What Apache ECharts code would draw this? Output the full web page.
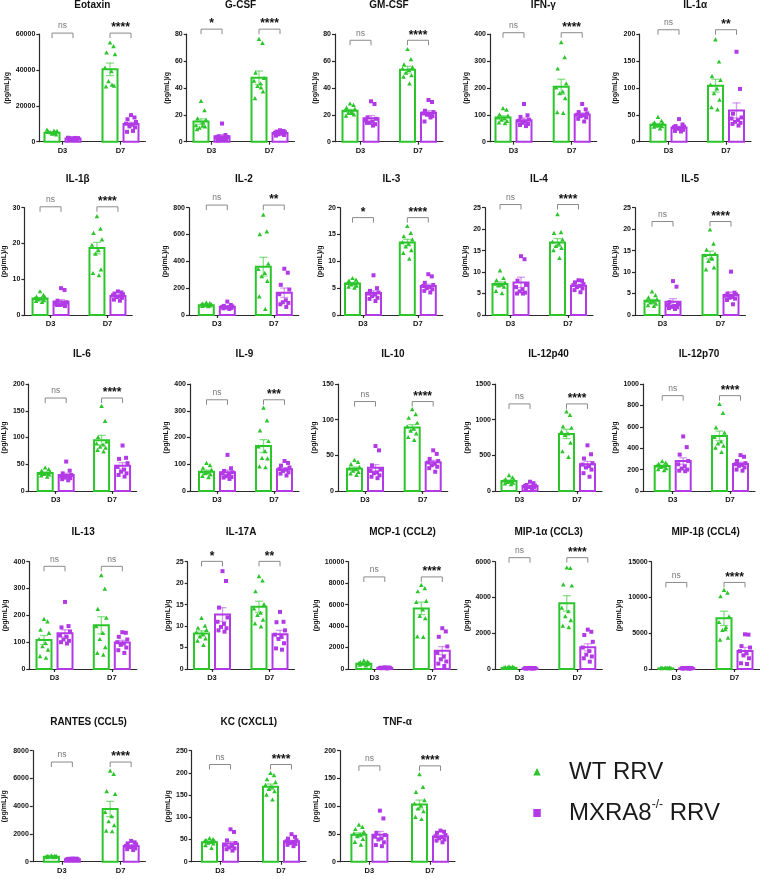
<!DOCTYPE html>
<html><head><meta charset="utf-8">
<script src="https://cdn.jsdelivr.net/npm/echarts@6/dist/echarts.min.js"></script>
<style>html,body{margin:0;padding:0;background:#fff}#c{width:760px;height:879px}</style>
</head><body><div id="c"></div>
<script>
// ---------------- DATA ----------------
const titles = ['Eotaxin','G-CSF','GM-CSF','IFN-γ','IL-1α','IL-1β','IL-2','IL-3','IL-4','IL-5','IL-6','IL-9','IL-10','IL-12p40','IL-12p70','IL-13','IL-17A','MCP-1 (CCL2)','MIP-1α (CCL3)','MIP-1β (CCL4)','RANTES (CCL5)','KC (CXCL1)','TNF-α'];
const categories = ['D3','D7'];
const yMax  = [60000,80,80,400,200,30,800,20,25,25,200,400,150,1500,1000,400,25,10000,6000,15000,8000,250,200];
const yStep = [20000,20,20,100,50,10,200,5,5,5,50,100,50,500,200,100,5,2000,2000,5000,2000,50,50];
const sigD3 = ['ns','*','ns','ns','ns','ns','ns','*','ns','ns','ns','ns','ns','ns','ns','ns','*','ns','ns','ns','ns','ns','ns'];
const sigD7 = ['****','****','****','****','**','****','**','****','****','****','****','***','****','****','****','ns','**','****','****','****','****','****','****'];

// bar means [D3, D7] and SEM
const wtMean = [[5000,40300],[15,47.5],[23,53.5],[90,204],[31.5,104],[4.6,18.7],[73,360],[5.85,13.5],[7.2,16.9],[3.3,14],[33.5,95],[72,168],[31.3,89],[140,800],[233,515],[108,163],[8.3,14.5],[480,5650],[60,3670],[80,7080],[350,3800],[44,169],[48.5,103]];
const wtSem  = [[400,3500],[2,5],[1,2.5],[6,28],[2,12],[0.3,1.6],[3.5,70],[0.2,0.6],[0.5,0.9],[0.35,0.9],[2,9],[6,24],[2.2,4],[13,65],[9,45],[17,32],[0.6,1.3],[50,580],[9,430],[8,1000],[20,550],[2.5,6],[3.5,8]];
const mxMean = [[1800,9800],[4,6.5],[17.5,21.5],[80,101],[26.5,58],[3.8,5.3],[62,166],[4.1,5.4],[7.6,6.8],[3.1,4.65],[30,47],[70,81],[32.5,40.2],[70,375],[280,252],[133,99],[12.7,8.1],[100,1710],[40,1210],[100,2520],[185,1130],[41,46],[48.5,45.5]];
const mxSem  = [[150,1000],[1.3,0.5],[1.9,1.5],[8,6],[2.3,14],[0.5,0.3],[5,35],[0.4,0.35],[1.2,0.3],[0.7,0.7],[3.3,6],[8,5.5],[4.5,2.8],[10,40],[30,16],[13,8],[1.6,0.9],[10,380],[4,200],[9,500],[10,70],[4.5,2.5],[6,2.2]];

// individual animals
const wtPtsD3 = [
 [4200,4900,5300,5800,6400,4600,5000,3800,5200,5900],
 [30,23,17,16,12,11.5,10,11,9,14],
 [28,27,25,24,23,22,21,20,19,21],
 [123,117,100,95,88,85,80,75,70,67],
 [45,38,35,33,32,30,29,28,27,24],
 [6.5,5.5,5,4.8,4.6,4.5,4.2,4,3.8,3.5],
 [90,85,82,78,75,72,70,68,65,62],
 [6.8,6.5,6.3,6,5.9,5.8,5.6,5.4,5.2,5],
 [10.3,8.5,8,7.5,7.2,7,6.8,6.5,5.5,5],
 [5.4,4.5,4,3.6,3.3,3,2.8,2.5,2.2,2],
 [43,40,37,35,33,32,31,30,28,26],
 [103,95,85,78,72,68,65,60,55,50],
 [43,40,37,33,31,30,28,26,24,22],
 [215,185,160,150,140,130,120,110,100,90],
 [275,260,250,240,235,228,220,210,200,190],
 [185,176,145,133,110,95,83,70,46,40],
 [11.8,10,9.5,9,8.5,8,7.5,7,6.5,5.5],
 [750,650,600,550,500,480,450,400,350,300],
 [120,100,80,70,60,50,45,40,35,30],
 [120,110,100,90,80,75,70,60,50,45],
 [420,400,380,360,350,340,330,310,300,290],
 [52,50,48,46,45,44,42,40,36,30],
 [66,62,58,53,50,48,45,40,35,30]
];
const mxPtsD3 = [
 [1200,1500,1800,2000,2200,1600,1900,1700,1400,2100],
 [13.5,5,4,3.5,3,2.5,2,1.5,1,2],
 [30,28,18,17,16,15,14,13,14,12],
 [140,98,92,82,78,74,70,66,62,58],
 [42,32,29,28,27,25,24,22,20,19],
 [7.5,7,4,3.5,3.2,3,2.8,2.5,2.8,2.9],
 [100,75,68,64,60,58,55,52,50,45],
 [7.4,5,4.5,4.2,4,3.8,3.5,3.2,3,2.6],
 [13.7,13,8,7,6.5,6,5.5,5.2,5,5],
 [7.9,6.6,3,2.5,2.3,2.1,1.9,1.8,1.6,1.4],
 [55,38,33,30,28,27,25,24,22,20],
 [135,85,75,70,65,60,55,52,50,45],
 [63,57,36,30,28,26,25,22,20,18],
 [130,110,85,75,70,60,55,50,35,30],
 [510,410,340,280,250,230,210,200,190,185],
 [250,160,155,140,125,120,110,105,100,95],
 [22.8,20.5,14.3,12,11,10.5,9.8,9.5,9,8.7],
 [160,140,120,110,100,90,85,80,70,60],
 [60,55,50,45,40,38,35,30,28,25],
 [150,130,120,110,100,95,90,80,70,60],
 [230,220,210,200,190,180,170,160,150,140],
 [73,67,48,42,38,35,32,30,28,25],
 [92,78,52,48,45,42,40,35,30,28]
];
const wtPtsD7 = [
 [55000,53000,49500,48500,41000,39000,33500,31000,30500,31500],
 [76,73,51,47,45,43,41,37,32,40],
 [68.5,61,57,55,54,53,51,49,48,43],
 [368,312,270,215,200,185,178,160,108,105],
 [189,148,121,114,105,98,89,77,63,59],
 [27.5,24,22.8,21,19.5,18,17,12.6,11.6,11],
 [745,620,600,380,340,310,285,250,135,42],
 [16.5,15.2,14.6,14,13.5,13.2,12.7,12,11.5,10.4],
 [23.4,19.2,19,17.5,17,16.5,16,15.5,15,13.2],
 [19.8,16.5,15.1,14.2,13.8,13.2,12.5,11,10.5,13],
 [158,130,100,92,88,86,82,80,76,73],
 [310,262,225,185,165,147,122,120,90,87],
 [114,107,102,95,90,87,84,80,75,71],
 [1110,1060,900,880,830,800,780,670,550,470],
 [810,725,590,540,500,460,440,420,400,360],
 [348,298,222,190,158,133,110,80,58,52],
 [21.5,20.5,18,15,14,13,12.5,11.4,10.5,9.8],
 [7800,7500,7200,6300,6200,5500,4900,4700,3000,2950],
 [5660,5620,4700,4640,3400,3200,2930,2700,2400,2310],
 [11000,10600,10100,7300,6500,5500,5400,4300,4050,5800],
 [6530,6300,5050,4850,3550,3250,2880,2600,2210,2160],
 [199,194,185,178,172,168,163,158,150,139],
 [157,134,125,110,104,100,95,90,80,76]
];
const mxPtsD7 = [
 [14800,13500,12500,11000,10000,9500,8500,8000,5500,6000],
 [8.5,8,7.5,7,6.5,6,5.5,5,4.5,6.5],
 [31,29.5,23,22,21,20,20,19,15,18],
 [140,120,110,105,100,98,95,90,85,75],
 [167,98,52,45,43,40,37,35,33,30],
 [6.6,6.3,6,5.8,5.5,5.2,5,4.8,4.3,4],
 [345,315,225,190,155,110,95,90,80,60],
 [7.6,7.2,6,5.6,5.4,5.2,5,4.8,4.5,4.2],
 [8.1,8,7.6,7.2,7,6.8,6.5,6.2,5.8,5.3],
 [10.1,5.2,5,4.8,4.5,4.2,4,3.8,3.5,2.5],
 [85,62,60,52,45,40,36,33,30,27],
 [112,105,95,88,82,80,75,70,65,58],
 [57,52,45,42,40,38,36,34,32,27],
 [640,515,455,390,370,350,330,300,250,200],
 [335,320,280,260,250,245,235,220,200,190],
 [137,135,120,110,100,95,90,80,70,60],
 [13.3,11,10.9,9,8,7.5,7,6,4.8,4.5],
 [3800,3500,3000,2100,1500,1150,900,700,500,280],
 [2200,2080,1900,1520,1200,1000,800,700,600,410],
 [4850,4800,3200,3000,2500,2200,1900,1500,800,700],
 [1500,1400,1320,1250,1150,1100,1050,960,900,840],
 [62,56,52,48,46,44,42,40,38,35],
 [56,54,52,48,46,44,42,40,38,35]
];
const legendNames = ['WT RRV', 'MXRA8', '-/-', ' RRV'];

// ---------------- LAYOUT / STYLE ----------------
const FONT = '"Liberation Sans", Arial, sans-serif';
const GREEN = '#2cc52c', PURPLE = '#b23ae6';
const GREEN_ERR = 'rgba(44,197,44,0.55)', PURPLE_ERR = 'rgba(178,58,230,0.5)';
const AX = '#2a2a2a';
const rowTop = [34, 207.7, 384, 561.7, 750.7];
const rowBottom = [141.7, 315, 491, 669, 861.7];
const rowTitleY = [5, 179, 354, 532, 722];
const axisLeft = [39.3,186.7,335,490,639.3, 23.3,189,340,485,635, 27,190,338,495,643, 29.3,187.7,348.3,495,651.7, 31.6,191.7,340];
const d3px = [62.5,211.5,360.5,513.5,668.5, 49.7,216.8,363,510.5,662.5, 54.5,217,365,519.5,672.7, 54.5,212,374.3,519.5,676.3, 61,220,369.4];
const d7px = [120.5,269.5,418,571.7,726, 107.2,273.8,417.8,568,720.5, 111.7,274,422.7,577,730, 111.8,269.5,431.8,577.3,734.5, 120.4,281,430];
const BW = 15, OFF = 10.5;
const JIT = [0, 3.5, -3.5, 5, -5, 1.5, -1.5, 4, -4, 2];

const option = { animation:false, grid:[], xAxis:[], yAxis:[], series:[], graphic:[] };

function barRender(params, api){
  const x = api.value(0), m = api.value(1), s = api.value(2), sign = api.value(3);
  const c0 = api.coord([x, 0]), cm = api.coord([x, m]);
  const cx = c0[0] + sign*OFF;
  return { type:'rect', shape:{x:cx-BW/2, y:cm[1], width:BW, height:c0[1]-cm[1]},
    style:{fill:'#fff', stroke: sign<0?GREEN:PURPLE, lineWidth:2} };
}
function errRender(params, api){
  const x = api.value(0), m = api.value(1), s = api.value(2), sign = api.value(3);
  const c0 = api.coord([x, 0]);
  const cx = c0[0] + sign*OFF;
  const hi = api.coord([x, m+s])[1], lo = api.coord([x, m-s])[1];
  const st = {stroke: sign<0?GREEN_ERR:PURPLE_ERR, lineWidth:1.3};
  return { type:'group', children:[
    {type:'line', shape:{x1:cx,y1:hi,x2:cx,y2:lo}, style:st},
    {type:'line', shape:{x1:cx-4,y1:hi,x2:cx+4,y2:hi}, style:st},
    {type:'line', shape:{x1:cx-4,y1:lo,x2:cx+4,y2:lo}, style:st}
  ]};
}
function ptRender(params, api){
  const x = api.value(0), v = api.value(1), sign = api.value(2), k = api.value(3);
  const c = api.coord([x, v]);
  const cx = c[0] + sign*OFF + JIT[k % JIT.length], cy = c[1];
  if (sign < 0) {
    return {type:'polygon', shape:{points:[[cx,cy-2.6],[cx-2.3,cy+1.6],[cx+2.3,cy+1.6]]}, style:{fill:GREEN}};
  }
  return {type:'rect', shape:{x:cx-2, y:cy-2, width:4, height:4}, style:{fill:PURPLE}};
}
function makeBracketRender(i){
  return function(params, api){
    const x = api.value(0), lvl = api.value(1);
    const c = api.coord([x, lvl]);
    const l = c[0]-OFF, r = c[0]+OFF, y = c[1];
    const lab = x < 0.5 ? sigD3[i] : sigD7[i];
    const isNs = lab === 'ns';
    return {type:'group', children:[
      {type:'polyline', shape:{points:[[l,y+5],[l,y],[r,y],[r,y+5]]}, style:{stroke:'#8a8a8a', lineWidth:1, fill:null}},
      {type:'text', x:c[0], y: isNs ? y-7 : y-5, style:{text:lab, align:'center', verticalAlign:'middle',
        fontFamily:FONT, fontSize: isNs?8.5:12, fontWeight: isNs?'normal':'bold', fill: isNs?'#777':'#111'}}
    ]};
  };
}

titles.forEach((t, i) => {
  const r = Math.floor(i/5);
  const left = axisLeft[i], right = d7px[i] + 25;
  const sep = d7px[i] - d3px[i];
  const digits = String(yMax[i]).length;
  option.grid.push({left:left, top:rowTop[r], width:right-left, height:rowBottom[r]-rowTop[r]});
  option.xAxis.push({type:'value', gridIndex:i, min:-(d3px[i]-left)/sep, max:1+(right-d7px[i])/sep,
    splitLine:{show:false},
    axisLine:{show:true, onZero:false, lineStyle:{color:AX, width:1.2}},
    axisTick:{show:true, length:3, customValues:[0,1], lineStyle:{color:AX, width:1.2}},
    axisLabel:{customValues:[0,1], margin:5, fontSize:7.5, fontWeight:'bold', color:'#111', fontFamily:FONT,
      formatter: v => Math.abs(v) < 1e-6 ? categories[0] : (Math.abs(v-1) < 1e-6 ? categories[1] : '')}
  });
  option.yAxis.push({type:'value', gridIndex:i, min:0, max:yMax[i], interval:yStep[i],
    splitLine:{show:false},
    axisLine:{show:true, onZero:false, lineStyle:{color:AX, width:1.2}},
    axisTick:{show:true, length:3, lineStyle:{color:AX, width:1.2}},
    axisLabel:{margin:4, fontSize:7, fontWeight:'bold', color:'#111', fontFamily:FONT, formatter: v => String(v)},
    name:'(pg/mL)/g', nameLocation:'middle', nameGap: 8 + 4.2*digits,
    nameTextStyle:{fontSize:7, fontWeight:'bold', color:'#111', fontFamily:FONT}
  });
  const barData = [
    [0, wtMean[i][0], wtSem[i][0], -1], [1, wtMean[i][1], wtSem[i][1], -1],
    [0, mxMean[i][0], mxSem[i][0], 1],  [1, mxMean[i][1], mxSem[i][1], 1]
  ];
  const ptData = [];
  wtPtsD3[i].forEach((v,k)=>ptData.push([0, v, -1, k]));
  wtPtsD7[i].forEach((v,k)=>ptData.push([1, v, -1, k]));
  mxPtsD3[i].forEach((v,k)=>ptData.push([0, v, 1, k]));
  mxPtsD7[i].forEach((v,k)=>ptData.push([1, v, 1, k]));
  const allMax = Math.max(...wtPtsD3[i], ...wtPtsD7[i], ...mxPtsD3[i], ...mxPtsD7[i]);
  const level = allMax * 1.1;
  const common = {type:'custom', xAxisIndex:i, yAxisIndex:i, clip:false, silent:true, encode:{x:0, y:1}};
  option.series.push(Object.assign({}, common, {data:barData, renderItem:barRender, z:2}));
  option.series.push(Object.assign({}, common, {data:barData, renderItem:errRender, z:3}));
  option.series.push(Object.assign({}, common, {data:ptData, renderItem:ptRender, z:4}));
  option.series.push(Object.assign({}, common, {data:[[0, level],[1, level]], renderItem:makeBracketRender(i), z:5}));
  option.graphic.push({type:'text', x:(left+right)/2, y:rowTitleY[r],
    style:{text:t, align:'center', verticalAlign:'middle', fontFamily:FONT, fontSize:10, fontWeight:'bold', fill:'#111'}});
});

// legend
option.graphic.push({type:'polygon', shape:{points:[[537,768],[533.3,775.5],[540.7,775.5]]}, style:{fill:GREEN}});
option.graphic.push({type:'rect', shape:{x:533.3, y:809, width:7.5, height:8}, style:{fill:PURPLE}});
option.graphic.push({type:'text', x:569, y:772, style:{text:legendNames[0], align:'left', verticalAlign:'middle', fontFamily:FONT, fontSize:24, fill:'#1a1a1a'}});
option.graphic.push({type:'text', x:569, y:813, style:{
  text:'{a|'+legendNames[1]+'}{s|'+legendNames[2]+'}{a|'+legendNames[3]+'}',
  align:'left', verticalAlign:'middle',
  rich:{a:{fontFamily:FONT, fontSize:24, fill:'#1a1a1a', lineHeight:28},
        s:{fontFamily:FONT, fontSize:12, fill:'#1a1a1a', verticalAlign:'top', lineHeight:28, padding:[0,0,12,0]}}
}});

const chart = echarts.init(document.getElementById('c'), null, {renderer:'canvas'});
chart.setOption(option);
</script>
</body></html>
